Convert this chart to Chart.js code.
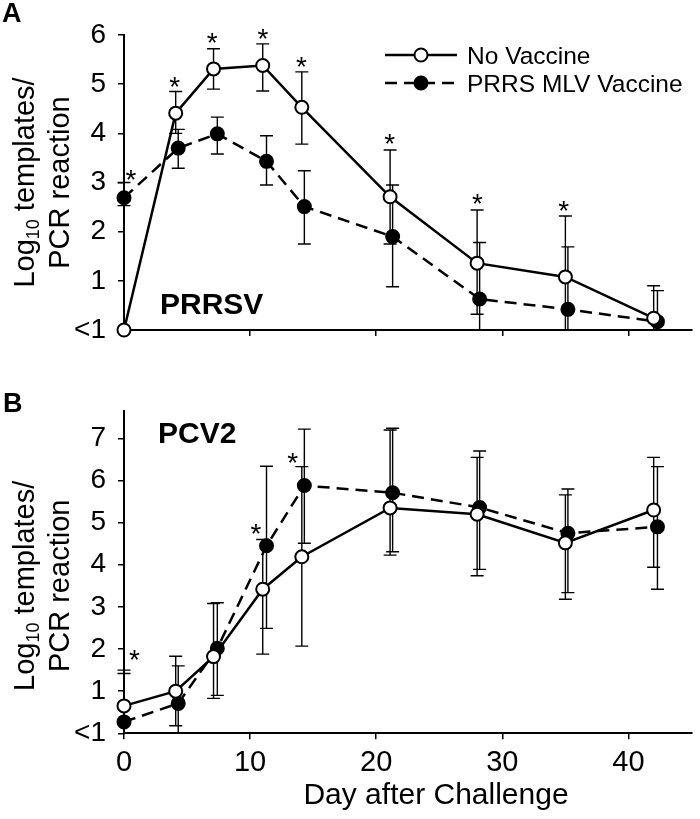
<!DOCTYPE html>
<html>
<head>
<meta charset="utf-8">
<script src="https://cdn.jsdelivr.net/npm/chart.js@4.4.1/dist/chart.umd.min.js"></script>
<style>
  html, body { margin: 0; padding: 0; background: #fff; }
  #wrap { position: relative; width: 700px; height: 819px; }
  canvas { position: absolute; left: 0; }
  #chartA { top: 0; }
  #chartB { top: 375px; }
</style>
</head>
<body>
<div id="wrap">
  <canvas id="chartA" width="700" height="375"></canvas>
  <canvas id="chartB" width="700" height="444"></canvas>
</div>
<script>
const FONT = "'Liberation Sans', Arial, sans-serif";

// day after challenge (filled series is drawn a little to the right)
const daysOpen = [0, 4.1, 7.1, 11, 14.1, 21.1, 28, 35, 42];
const daysFilled = [0, 4.3, 7.4, 11.3, 14.3, 21.3, 28.2, 35.2, 42.3];
const xTicks = [0, 10, 20, 30, 40];

// Panel A - PRRSV
const prrsvNoVac = [0, 4.41, 5.31, 5.38, 4.53, 2.71, 1.36, 1.08, 0.24];
const prrsvNoVacHi = [null, 4.85, 5.72, 5.82, 5.25, 3.66, 2.44, 2.32, 0.90];
const prrsvNoVacLo = [null, 4.0, 4.90, 4.86, 3.78, 1.75, 0.32, -0.16, -0.4];
const prrsvVac = [2.69, 3.70, 3.99, 3.43, 2.51, 1.90, 0.63, 0.42, 0.17];
const prrsvVacHi = [3.0, 4.08, 4.33, 3.95, 3.24, 2.95, 1.78, 1.69, 0.80];
const prrsvVacLo = [2.53, 3.29, 3.58, 2.95, 1.75, 0.88, -0.5, -0.4, -0.5];
const prrsvTicks = [0, 1, 2, 3, 4, 5, 6];
const prrsvStarDays = [0.56, 4.02, 7.0, 11.02, 14.08, 21.06, 28.02, 34.86];
const prrsvStarVals = [3.2, 5.09, 5.98, 6.06, 5.49, 3.93, 2.71, 2.57];

// Panel B - PCV2
const pcv2NoVac = [0.65, 1.0, 1.82, 3.42, 4.19, 5.35, 5.20, 4.52, 5.30];
const pcv2NoVacHi = [1.50, 1.83, 3.08, 4.60, 6.33, 7.20, 6.55, 5.66, 6.55];
const pcv2NoVacLo = [-0.2, 0.18, 0.83, 1.88, 2.07, 4.23, 3.74, 3.18, 3.94];
const pcv2Vac = [0.27, 0.71, 2.02, 4.45, 5.88, 5.71, 5.36, 4.75, 4.90];
const pcv2VacHi = [1.42, 1.6, 3.10, 6.34, 7.22, 7.24, 6.70, 5.80, 6.33];
const pcv2VacLo = [-0.6, -0.2, 0.90, 2.49, 4.51, 4.31, 3.89, 3.34, 3.42];
const pcv2Ticks = [0, 1, 2, 3, 4, 5, 6, 7];
const pcv2StarDays = [0.82, 10.47, 13.37];
const pcv2StarVals = [1.91, 4.90, 6.58];

const seriesNames = ["No Vaccine", "PRRS MLV Vaccine"];

function toPoints(days, vals) {
  return vals.map((v, i) => ({ x: days[i], y: v }));
}

function makeDatasets(open, openHi, openLo, filled, filledHi, filledLo) {
  return [
    {
      label: seriesNames[0],
      data: toPoints(daysOpen, open),
      hi: openHi, lo: openLo,
      borderColor: "#000", borderWidth: 2.5,
      pointRadius: 6.5, pointBorderWidth: 2,
      pointBackgroundColor: "#fff", pointBorderColor: "#000",
      clip: false,
    },
    {
      label: seriesNames[1],
      data: toPoints(daysFilled, filled),
      hi: filledHi, lo: filledLo,
      borderColor: "#000", borderWidth: 2.5, borderDash: [12, 7],
      pointRadius: 6.5, pointBorderWidth: 2,
      pointBackgroundColor: "#000", pointBorderColor: "#000",
      clip: false,
    },
  ];
}

// error bars, drawn under the lines and markers
const errorBars = {
  id: "errorBars",
  beforeDatasetsDraw(chart) {
    const { ctx, scales: { x, y } } = chart;
    const base = y.getPixelForValue(0);
    ctx.save();
    ctx.strokeStyle = "#000";
    ctx.lineWidth = 1.4;
    chart.data.datasets.forEach((ds) => {
      ds.data.forEach((pt, i) => {
        if (ds.hi[i] == null) return;
        const px = x.getPixelForValue(pt.x);
        const yh = y.getPixelForValue(ds.hi[i]);
        const below = ds.lo[i] < 0;
        const yl = below ? base : y.getPixelForValue(ds.lo[i]);
        ctx.beginPath();
        ctx.moveTo(px, yh);
        ctx.lineTo(px, yl);
        ctx.moveTo(px - 6.5, yh);
        ctx.lineTo(px + 6.5, yh);
        if (!below) {
          ctx.moveTo(px - 6.5, yl);
          ctx.lineTo(px + 6.5, yl);
        }
        ctx.stroke();
      });
    });
    ctx.restore();
  },
};

function drawYTitle(ctx, cy) {
  const big = `29px ${FONT}`;
  const small = `18px ${FONT}`;
  ctx.save();
  ctx.fillStyle = "#000";
  ctx.translate(0, cy);
  ctx.rotate(-Math.PI / 2);
  ctx.textAlign = "left";
  ctx.textBaseline = "alphabetic";
  ctx.font = big;
  const w1 = ctx.measureText("Log").width;
  const w3 = ctx.measureText(" templates/").width;
  ctx.font = small;
  const w2 = ctx.measureText("10").width;
  let sx = -(w1 + w2 + w3) / 2;
  ctx.font = big;
  ctx.fillText("Log", sx, 34);
  ctx.font = small;
  ctx.fillText("10", sx + w1, 39);
  ctx.font = big;
  ctx.fillText(" templates/", sx + w1 + w2, 34);
  ctx.textAlign = "center";
  ctx.fillText("PCR reaction", 0, 69);
  ctx.restore();
}

function drawLegend(ctx) {
  const rows = [
    { y: 55, dash: [], fill: "#fff" },
    { y: 83, dash: [12, 7], fill: "#000" },
  ];
  ctx.save();
  rows.forEach((r, i) => {
    ctx.strokeStyle = "#000";
    ctx.lineWidth = 2.5;
    ctx.setLineDash(r.dash);
    ctx.beginPath();
    ctx.moveTo(385, r.y);
    ctx.lineTo(457, r.y);
    ctx.stroke();
    ctx.setLineDash([]);
    ctx.lineWidth = 2;
    ctx.fillStyle = r.fill;
    ctx.beginPath();
    ctx.arc(421, r.y, 6.5, 0, Math.PI * 2);
    ctx.fill();
    ctx.stroke();
    ctx.fillStyle = "#000";
    ctx.font = `24.5px ${FONT}`;
    ctx.textAlign = "left";
    ctx.textBaseline = "alphabetic";
    ctx.fillText(seriesNames[i], 467, r.y + 8.8);
  });
  ctx.restore();
}

const decor = {
  id: "decor",
  afterDraw(chart, args, o) {
    const { ctx, scales: { x, y } } = chart;
    ctx.save();
    ctx.fillStyle = "#000";
    ctx.textAlign = "center";
    ctx.textBaseline = "alphabetic";
    ctx.font = `28px ${FONT}`;
    o.starDays.forEach((d, i) => {
      ctx.fillText("*", x.getPixelForValue(d), y.getPixelForValue(o.starVals[i]) + 16);
    });
    ctx.textAlign = "left";
    ctx.font = `bold 27px ${FONT}`;
    ctx.fillText(o.letter, o.letterX, o.letterY);
    ctx.font = `bold 30px ${FONT}`;
    ctx.fillText(o.virus, o.virusX, o.virusY);
    if (o.xTitle) {
      ctx.textAlign = "center";
      ctx.font = `30px ${FONT}`;
      ctx.fillText(o.xTitle, 436, o.xTitleY);
    }
    ctx.restore();
    drawYTitle(ctx, (y.getPixelForValue(0) + y.getPixelForValue(o.yTop)) / 2);
    if (o.legend) drawLegend(ctx);
  },
};

function makeOptions(yMax, yTicks, showX, xHeight, padTop, decorOpts) {
  return {
    responsive: false,
    animation: false,
    events: [],
    layout: { padding: { top: padTop, right: 2, left: 0, bottom: 0 } },
    plugins: { legend: { display: false }, tooltip: { enabled: false }, decor: decorOpts },
    scales: {
      x: {
        type: "linear",
        min: 0,
        max: 45,
        afterBuildTicks: (s) => { s.ticks = xTicks.map((v) => ({ value: v })); },
        afterFit: (s) => { s.height = xHeight; },
        grid: { drawOnChartArea: false, drawTicks: true, tickLength: 6, color: "#000", lineWidth: 1.5 },
        border: { display: true, color: "#000", width: 2 },
        ticks: { display: showX, color: "#000", font: { family: FONT, size: 29 }, padding: 6, maxRotation: 0 },
      },
      y: {
        type: "linear",
        min: 0,
        max: yMax,
        afterBuildTicks: (s) => { s.ticks = yTicks.map((v) => ({ value: v })); },
        afterFit: (s) => { s.width = 124; },
        grid: { drawOnChartArea: false, drawTicks: true, tickLength: 6, color: "#000", lineWidth: 1.5 },
        border: { display: true, color: "#000", width: 2 },
        ticks: {
          color: "#000",
          font: { family: FONT, size: 28 },
          padding: 12,
          callback: (v) => (v === 0 ? "<1" : String(v)),
        },
      },
    },
  };
}

new Chart(document.getElementById("chartA"), {
  type: "line",
  data: { datasets: makeDatasets(prrsvNoVac, prrsvNoVacHi, prrsvNoVacLo, prrsvVac, prrsvVacHi, prrsvVacLo) },
  options: makeOptions(6, prrsvTicks, false, 45, 35, {
    starDays: prrsvStarDays, starVals: prrsvStarVals,
    letter: "A", letterX: 2, letterY: 22,
    virus: "PRRSV", virusX: 160, virusY: 314,
    yTop: 6, legend: true,
  }),
  plugins: [errorBars, decor],
});

new Chart(document.getElementById("chartB"), {
  type: "line",
  data: { datasets: makeDatasets(pcv2NoVac, pcv2NoVacHi, pcv2NoVacLo, pcv2Vac, pcv2VacHi, pcv2VacLo) },
  options: makeOptions(7.65, pcv2Ticks, true, 85.7, 36, {
    starDays: pcv2StarDays, starVals: pcv2StarVals,
    letter: "B", letterX: 3, letterY: 37,
    virus: "PCV2", virusX: 158, virusY: 68,
    yTop: 7, legend: false,
    xTitle: "Day after Challenge", xTitleY: 429,
  }),
  plugins: [errorBars, decor],
});
</script>
</body>
</html>
